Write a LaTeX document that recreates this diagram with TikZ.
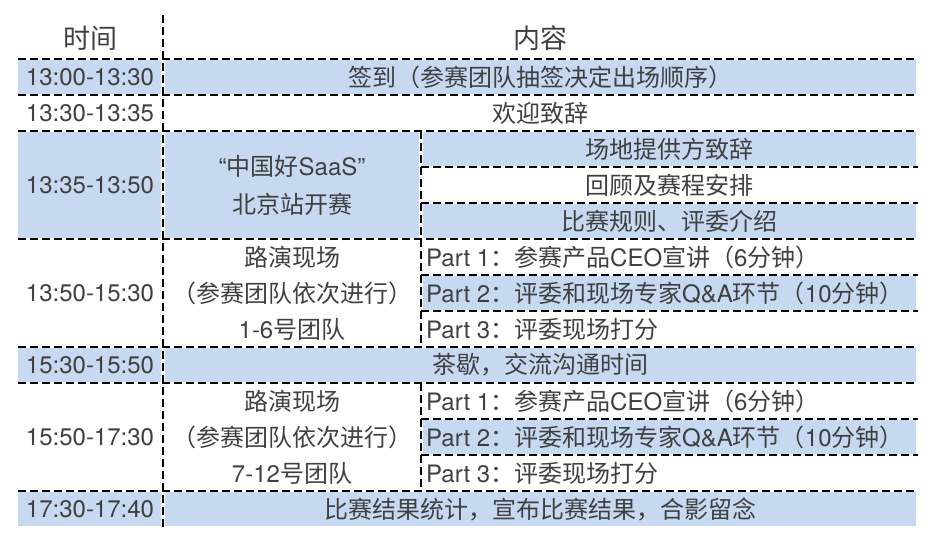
\documentclass[tikz,border=0pt]{standalone}
\usepackage{fontspec}
\setmainfont{Noto Sans CJK SC}
\newfontfamily\latfont{TeX Gyre Heros}
\newcommand\lt[1]{{\latfont #1}}
\definecolor{cellblue}{RGB}{198,217,240}
\definecolor{txt}{RGB}{64,64,64}
\tikzset{
  grid/.style={line width=1.8pt, dash pattern=on 8pt off 4pt, black},
  shade/.style={fill=cellblue, draw=none},
  tx/.style={inner sep=0pt, text=txt, font=\fontsize{24}{27}\selectfont},
  hd/.style={inner sep=0pt, text=txt, font=\fontsize{27}{30}\selectfont},
  part/.style={tx, anchor=west}
}
\begin{document}
\begin{tikzpicture}[x=1pt,y=-1pt]
\useasboundingbox (0,0) rectangle (936,546);
% shaded cells
\fill[shade] (18,60) rectangle (161,94);
\fill[shade] (165,60) rectangle (916,94);
\fill[shade] (18,132) rectangle (161,238);
\fill[shade] (165,132) rectangle (419,238);
\fill[shade] (423,132) rectangle (916,166);
\fill[shade] (423,204) rectangle (916,238);
\fill[shade] (423,276) rectangle (916,310);
\fill[shade] (18,348) rectangle (161,382);
\fill[shade] (165,348) rectangle (916,382);
\fill[shade] (423,420) rectangle (916,454);
\fill[shade] (18,492) rectangle (161,526);
\fill[shade] (165,492) rectangle (916,526);
% grid lines
\foreach \y in {59,95,131,239,347,383,491}
  \draw[grid] (18,\y) -- (918,\y);
\foreach \y in {167,203,275,311,419,455}
  \draw[grid] (421,\y) -- (918,\y);
\draw[grid] (163,15) -- (163,528);
\draw[grid] (421,131) -- (421,347);
\draw[grid] (421,383) -- (421,491);
% header
\node[hd] (h1) at (90,38) {时间};
\node[hd] (h2) at (540,38) {内容};
% time column
\node[tx] (t1) at (90,77) {\lt{13:00-13:30}};
\node[tx] (t2) at (90,113) {\lt{13:30-13:35}};
\node[tx] (t3) at (90,185) {\lt{13:35-13:50}};
\node[tx] (t4) at (90,293) {\lt{13:50-15:30}};
\node[tx] (t5) at (90,365) {\lt{15:30-15:50}};
\node[tx] (t6) at (90,437) {\lt{15:50-17:30}};
\node[tx] (t7) at (90,509) {\lt{17:30-17:40}};
% content
\node[tx] (c1) at (540,77) {签到（参赛团队抽签决定出场顺序）};
\node[tx] (c2) at (540,113) {欢迎致辞};
\node[tx] (c3a) at (292,166) {\lt{“}中国好\lt{SaaS”}};
\node[tx] (c3b) at (292,204) {北京站开赛};
\node[tx] (s31) at (669,149) {场地提供方致辞};
\node[tx] (s32) at (669,185) {回顾及赛程安排};
\node[tx] (s33) at (669,221) {比赛规则、评委介绍};
\node[tx] (c4a) at (292,257) {路演现场};
\node[tx] (c4b) at (292,293) {（参赛团队依次进行）};
\node[tx] (c4c) at (292,329) {\lt{1-6}号团队};
\node[part] (p41) at (426,257) {\lt{Part 1}：参赛产品\lt{CEO}宣讲（\lt{6}分钟）};
\node[part] (p42) at (426,293) {\lt{Part 2}：评委和现场专家\lt{Q\&A}环节（\lt{10}分钟）};
\node[part] (p43) at (426,329) {\lt{Part 3}：评委现场打分};
\node[tx] (c5) at (540,365) {茶歇，交流沟通时间};
\node[tx] (c6a) at (292,401) {路演现场};
\node[tx] (c6b) at (292,437) {（参赛团队依次进行）};
\node[tx] (c6c) at (292,473) {\lt{7-12}号团队};
\node[part] (p61) at (426,401) {\lt{Part 1}：参赛产品\lt{CEO}宣讲（\lt{6}分钟）};
\node[part] (p62) at (426,437) {\lt{Part 2}：评委和现场专家\lt{Q\&A}环节（\lt{10}分钟）};
\node[part] (p63) at (426,473) {\lt{Part 3}：评委现场打分};
\node[tx] (c7) at (540,509) {比赛结果统计，宣布比赛结果，合影留念};
\end{tikzpicture}
\end{document}
